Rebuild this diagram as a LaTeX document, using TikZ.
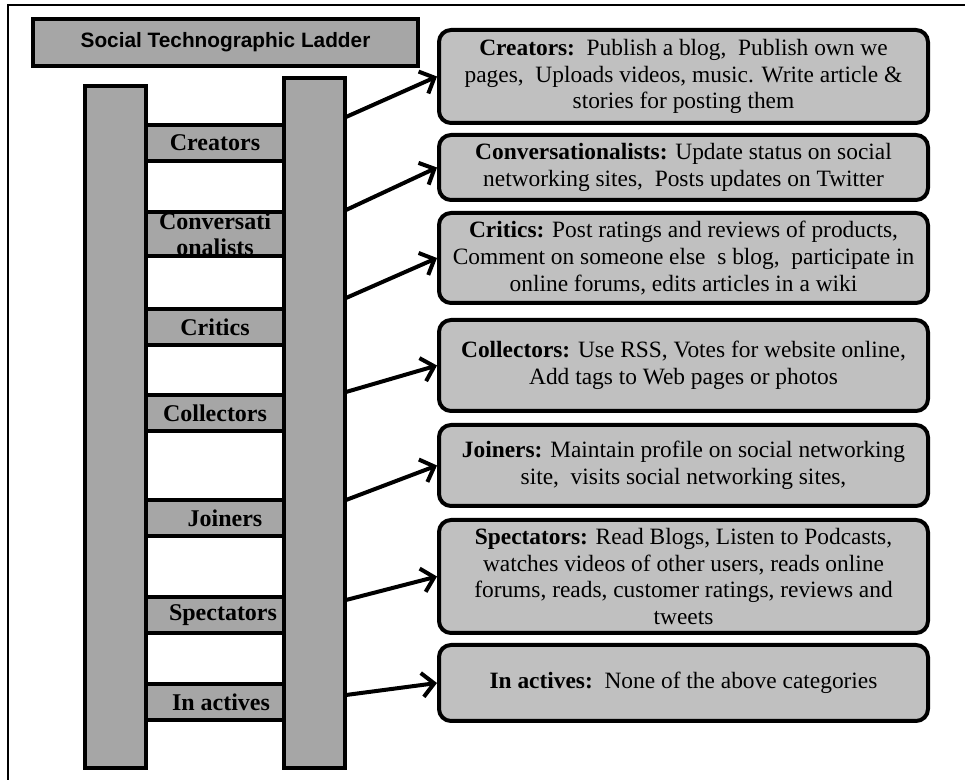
\documentclass[tikz,border=0pt]{standalone}
\usepackage{fontspec}
\setmainfont{Liberation Serif}
\newfontfamily\titlefont{Liberation Sans}
\usepackage{xcolor}
\usepackage{tikz}
\usetikzlibrary{arrows.meta,positioning}
\definecolor{kdark}{RGB}{166,166,166}
\definecolor{klight}{RGB}{192,192,192}

\begin{document}
\begin{tikzpicture}[x=0.5pt,y=-0.5pt,>={Straight Barb[length=6pt,width=12pt]},font=\fontsize{11.7}{13.4}\selectfont]
\tikzstyle{rail}=[draw, line width=2pt, fill=kdark, minimum width=30.5pt, inner sep=0pt]
\tikzstyle{rung}=[draw, line width=2pt, fill=kdark, minimum width=71pt, minimum height=18pt, inner sep=0pt, align=center, font=\fontsize{12}{13}\selectfont\bfseries]
\tikzstyle{desc}=[draw, line width=2pt, rounded corners=6pt, fill=klight, align=center, minimum width=244.5pt, inner sep=2pt]
\tikzstyle{title}=[draw, line width=2pt, fill=kdark, minimum width=192.5pt, minimum height=23.5pt, font=\titlefont\bfseries\fontsize{10.4}{12}\selectfont]
\tikzstyle{link}=[->, line width=2pt]

\useasboundingbox (0,0) rectangle (965,780);
\draw[line width=1pt] (965,5) -- (8,5) -- (8,780);

\node[title] (head) at (225.5,42.5) {Social Technographic Ladder};

% rungs first, rails on top
\node[rung] (creators) at (215,143) {Creators};
\node[rung, minimum height=22pt] (convers) at (215,234) {Conversati\\onalists};
\node[rung] (critics) at (215,327) {Critics};
\node[rung] (collect) at (215,413) {Collectors};
\node[rung] (joiners) at (215,518.5) {\hspace{10pt}Joiners};
\node[rung] (spect) at (215,615) {\hspace{8pt}Spectators};
\node[rung] (inact) at (215,702) {\hspace{6pt}In actives};

\node[rail, minimum height=341pt] (railL) at (115.5,427) {};
\node[rail, minimum height=345pt] (railR) at (314.5,423) {};

\node[desc, minimum height=46.5pt] (dcreators) at (683.5,76.5) {\textbf{Creators:}\ \ Publish a blog,\ \ Publish own we\\pages,\ \ Uploads videos, music. Write article \&\\stories for posting them};
\node[desc, minimum height=32.5pt] (dconvers) at (683.5,167.5) {\textbf{Conversationalists:} Update status on social\\networking sites,\ \ Posts updates on Twitter};
\node[desc, minimum height=45pt] (dcritics) at (683.5,258) {\textbf{Critics:} Post ratings and reviews of products,\\Comment on someone else\ \ s blog,\ \ participate in\\online forums, edits articles in a wiki};
\node[desc, minimum height=45.5pt] (dcollect) at (683.5,365.5) {\textbf{Collectors:} Use RSS, Votes for website online,\\Add tags to Web pages or photos};
\node[desc, minimum height=40.5pt] (djoiners) at (683.5,465.5) {\textbf{Joiners:} Maintain profile on social networking\\site,\ \ visits social networking sites,};
\node[desc, minimum height=56.5pt] (dspect) at (683.5,576.5) {\textbf{Spectators:} Read Blogs, Listen to Podcasts,\\watches videos of other users, reads online\\forums, reads, customer ratings, reviews and\\tweets};
\node[desc, minimum height=38pt] (dinact) at (683.5,683) {\textbf{In actives:}\ \ None of the above categories};

\coordinate (s1) at (346,117);
\coordinate (s2) at (346,210);
\coordinate (s3) at (346,298);
\coordinate (s4) at (346,392);
\coordinate (s5) at (346,500);
\coordinate (s6) at (346,600);
\coordinate (s7) at (346,695);

\draw[link] (s1) -- (dcreators.west);
\draw[link] (s2) -- (dconvers.west);
\draw[link] (s3) -- (dcritics.west);
\draw[link] (s4) -- (dcollect.west);
\draw[link] (s5) -- (djoiners.west);
\draw[link] (s6) -- (dspect.west);
\draw[link] (s7) -- (dinact.west);
\end{tikzpicture}
\end{document}
